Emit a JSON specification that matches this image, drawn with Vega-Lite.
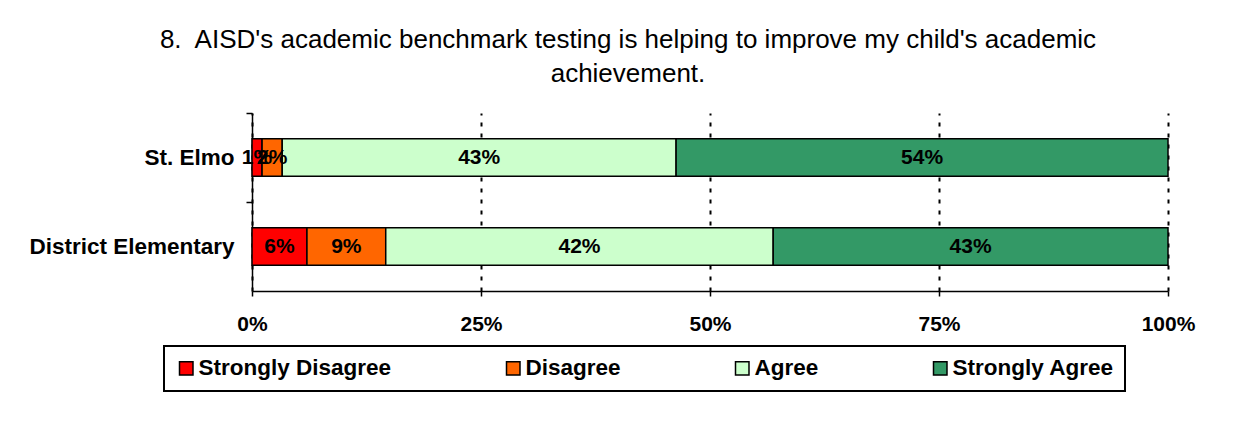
{
  "$schema": "https://vega.github.io/schema/vega-lite/v6.json",
  "width": 916,
  "height": 178,
  "autosize": {"type": "none"},
  "padding": {"left": 252, "top": 113, "right": 84, "bottom": 130},
  "background": "white",
  "title": {
    "text": ["8.\u00a0 AISD's academic benchmark testing is helping to improve my child's academic", "achievement."],
    "font": "Liberation Sans",
    "fontSize": 26,
    "fontWeight": "normal",
    "color": "black",
    "lineHeight": 34,
    "anchor": "middle",
    "dx": -82,
    "offset": 25
  },
  "data": {
    "values": [
      {"group": "St. Elmo", "response": "Strongly Disagree", "ord": 1, "value": 0.011},
      {"group": "St. Elmo", "response": "Disagree", "ord": 2, "value": 0.022},
      {"group": "St. Elmo", "response": "Agree", "ord": 3, "value": 0.43},
      {"group": "St. Elmo", "response": "Strongly Agree", "ord": 4, "value": 0.537},
      {"group": "District Elementary", "response": "Strongly Disagree", "ord": 1, "value": 0.06},
      {"group": "District Elementary", "response": "Disagree", "ord": 2, "value": 0.086},
      {"group": "District Elementary", "response": "Agree", "ord": 3, "value": 0.423},
      {"group": "District Elementary", "response": "Strongly Agree", "ord": 4, "value": 0.431}
    ]
  },
  "transform": [
    {"stack": "value", "groupby": ["group"], "sort": [{"field": "ord", "order": "ascending"}], "as": ["x0", "x1"]},
    {"calculate": "(datum.x0 + datum.x1) / 2", "as": "mid"}
  ],
  "encoding": {
    "y": {
      "field": "group",
      "type": "nominal",
      "sort": ["St. Elmo", "District Elementary"],
      "title": null,
      "scale": {"paddingInner": 0.58, "paddingOuter": 0.29},
      "axis": {
        "bandPosition": -0.69,
        "domainColor": "black",
        "domainWidth": 1.5,
        "tickColor": "black",
        "tickWidth": 1.5,
        "tickSize": 6,
        "labelFont": "Liberation Sans",
        "labelFontSize": 22.5,
        "labelFontWeight": "bold",
        "labelColor": "black",
        "labelPadding": 12,
        "labelLimit": 400
      }
    }
  },
  "layer": [
    {
      "mark": {"type": "bar", "stroke": "black", "strokeWidth": 1.5},
      "encoding": {
        "x": {
          "field": "x0",
          "type": "quantitative",
          "scale": {"domain": [0, 1], "nice": false},
          "title": null,
          "axis": {
            "values": [0, 0.25, 0.5, 0.75, 1],
            "format": ".0%",
            "grid": true,
            "gridColor": "black",
            "gridDash": [4, 7],
            "gridWidth": 2,
            "gridOpacity": 1,
            "domainColor": "black",
            "domainWidth": 1.5,
            "tickColor": "black",
            "tickWidth": 1.5,
            "tickSize": 5,
            "labelFont": "Liberation Sans",
            "labelFontSize": 21,
            "labelFontWeight": "bold",
            "labelColor": "black",
            "labelPadding": 17,
            "labelFlush": false
          }
        },
        "x2": {"field": "x1"},
        "color": {
          "field": "response",
          "type": "nominal",
          "scale": {
            "domain": ["Strongly Disagree", "Disagree", "Agree", "Strongly Agree"],
            "range": ["#FF0000", "#FF6600", "#CCFFCC", "#339966"]
          },
          "legend": {
            "title": null,
            "orient": "none",
            "legendX": -88,
            "legendY": 233,
            "direction": "horizontal",
            "columns": 4,
            "columnPadding": 110,
            "padding": 11,
            "strokeColor": "black",
            "fillColor": "white",
            "symbolType": "square",
            "symbolSize": 182,
            "symbolStrokeColor": "black",
            "symbolStrokeWidth": 1.5,
            "symbolOpacity": 1,
            "labelFont": "Liberation Sans",
            "labelFontSize": 22.5,
            "labelFontWeight": "bold",
            "labelColor": "black",
            "labelOffset": 1,
            "labelLimit": 400
          }
        }
      }
    },
    {
      "mark": {"type": "text", "font": "Liberation Sans", "fontSize": 21, "fontWeight": "bold", "color": "black", "baseline": "middle", "align": "center"},
      "encoding": {
        "x": {"field": "mid", "type": "quantitative"},
        "text": {"field": "value", "type": "quantitative", "format": ".0%"}
      }
    }
  ],
  "config": {
    "view": {"stroke": null},
    "legend": {"strokeWidth": 2}
  }
}
